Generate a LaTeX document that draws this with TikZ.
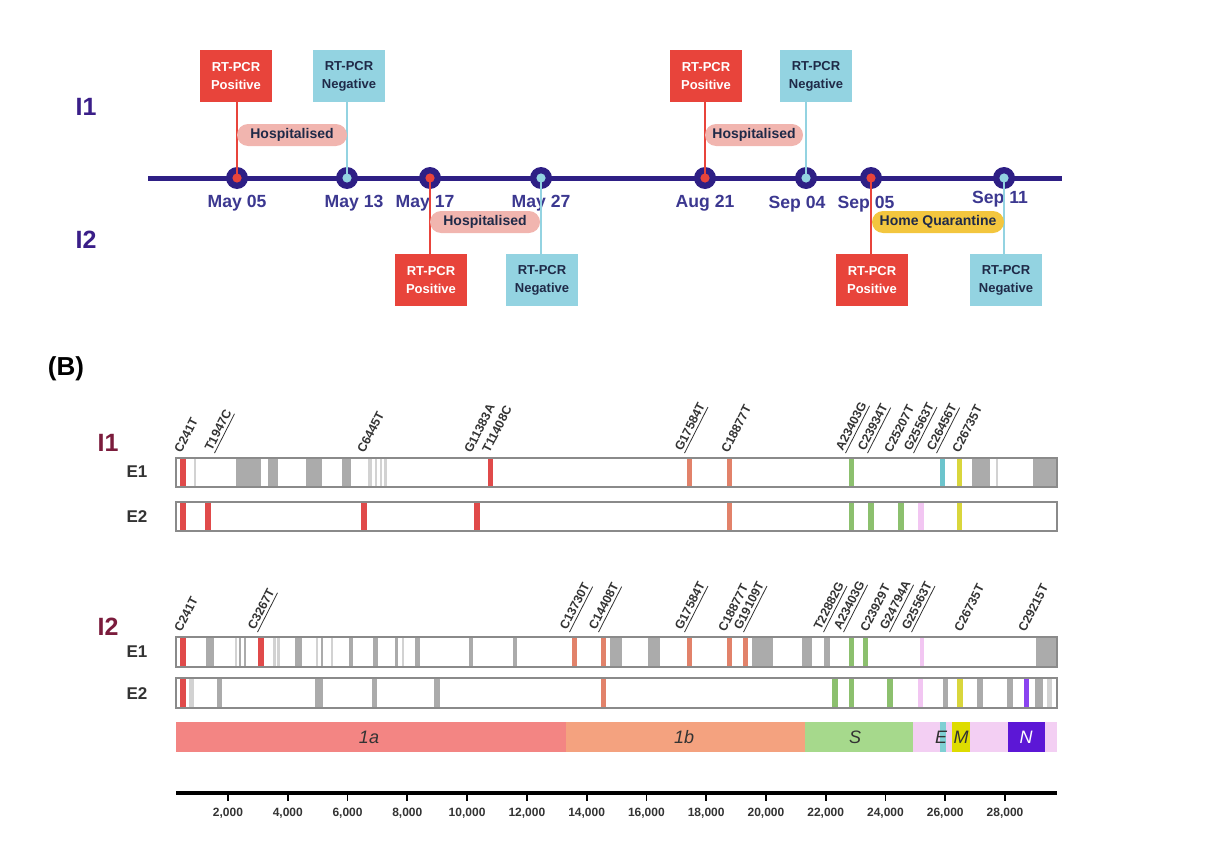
\documentclass[tikz,border=0pt]{standalone}
\usepackage{fontspec}
\setmainfont{Liberation Sans}
\definecolor{navy}{HTML}{2E1F85}
\definecolor{datec}{HTML}{3C3890}
\definecolor{ilab}{HTML}{3A1E88}
\definecolor{rpos}{HTML}{E8443B}
\definecolor{bneg}{HTML}{93D3E1}
\definecolor{negtext}{HTML}{1F2A48}
\definecolor{hosp}{HTML}{F1B5AF}
\definecolor{homeq}{HTML}{F3C63E}
\definecolor{maroonlab}{HTML}{7B1C3C}
\definecolor{mred}{HTML}{E04A4A}
\definecolor{morange}{HTML}{E2826A}
\definecolor{mgreen}{HTML}{8CC06E}
\definecolor{mteal}{HTML}{6CC4CC}
\definecolor{myellow}{HTML}{D9D63C}
\definecolor{mpink}{HTML}{F2C6F2}
\definecolor{mpurple}{HTML}{8A44F0}
\definecolor{mgray}{HTML}{ABABAB}
\definecolor{lgray}{HTML}{D2D2D2}
\definecolor{barline}{HTML}{8A8A8A}
\definecolor{g1a}{HTML}{F38583}
\definecolor{g1b}{HTML}{F4A27F}
\definecolor{gS}{HTML}{A6D98C}
\definecolor{gpink}{HTML}{F3CFF3}
\definecolor{gE}{HTML}{7FCFD3}
\definecolor{gM}{HTML}{DEDC00}
\definecolor{gN}{HTML}{5C17D6}
\definecolor{labtext}{HTML}{333333}
\tikzset{
  posbox/.style={fill=rpos, text=white, font=\bfseries\fontsize{6.5}{9}\selectfont, minimum width=36pt, minimum height=26pt, align=center, inner sep=0pt},
  negbox/.style={fill=bneg, text=negtext, font=\bfseries\fontsize{6.5}{9}\selectfont, minimum width=36pt, minimum height=26pt, align=center, inner sep=0pt},
  tldot/.style={circle, fill=navy, minimum size=11pt, inner sep=0pt},
  datelab/.style={text=datec, font=\bfseries\fontsize{8.8}{10}\selectfont},
  pill/.style={rounded corners=5.5pt, minimum height=11pt, inner sep=0pt, font=\bfseries\fontsize{7}{8}\selectfont, text=negtext},
  poslink/.style={rpos, line width=1.2pt},
  neglink/.style={bneg, line width=1.2pt},
  toplab/.style={text=ilab, font=\bfseries\fontsize{12.5}{14}\selectfont},
  panlab/.style={text=maroonlab, font=\bfseries\fontsize{12.5}{14}\selectfont},
  elab/.style={text=labtext, font=\bfseries\fontsize{8.5}{10}\selectfont},
  mut/.style={rotate=63, anchor=south west, inner sep=0.3pt, text=labtext, font=\bfseries\fontsize{6.2}{7}\selectfont},
  genelab/.style={font=\itshape\fontsize{9}{10}\selectfont, text=labtext},
  axlab/.style={font=\bfseries\fontsize{6}{7}\selectfont, text=labtext},
}
\newcommand{\mutmarks}[3]{\foreach \c/\a/\b in {#3} {\fill[\c] (\a,#1) rectangle (\b,#2);}}
\begin{document}
\begin{tikzpicture}[x=0.5pt, y=-0.5pt]
\useasboundingbox (0,0) rectangle (1214,856);
% ---------------- Panel A ----------------
\node[toplab] (ti1) at (86,107) {I1};
\node[toplab] (ti2) at (86,240) {I2};
\draw[navy, line width=2.5pt] (148,178) -- (1062,178);
\foreach \n/\x in {d1/237,d2/347,d3/430,d4/541,d5/705,d6/806,d7/871,d8/1004}
  \node[tldot] (\n) at (\x,178) {};
% boxes
\node[posbox] (b1) at (236,76) {RT-PCR\\Positive};
\node[negbox] (b2) at (349,76) {RT-PCR\\Negative};
\node[posbox] (b3) at (431,280) {RT-PCR\\Positive};
\node[negbox] (b4) at (542,280) {RT-PCR\\Negative};
\node[posbox] (b5) at (706,76) {RT-PCR\\Positive};
\node[negbox] (b6) at (816,76) {RT-PCR\\Negative};
\node[posbox] (b7) at (872,280) {RT-PCR\\Positive};
\node[negbox] (b8) at (1006,280) {RT-PCR\\Negative};
% dates
\node[datelab] (l1) at (237,203) {May 05};
\node[datelab] (l2) at (354,203) {May 13};
\node[datelab] (l3) at (425,203) {May 17};
\node[datelab] (l4) at (541,203) {May 27};
\node[datelab] (l5) at (705,203) {Aug 21};
\node[datelab] (l6) at (797,204) {Sep 04};
\node[datelab] (l7) at (866,204) {Sep 05};
\node[datelab] (l8) at (1000,199) {Sep 11};
% links
\draw[poslink] (b1.south -| d1) -- (d1.center);
\draw[neglink] (b2.south -| d2) -- (d2.center);
\draw[poslink] (b3.north -| d3) -- (d3.center);
\draw[neglink] (b4.north -| d4) -- (d4.center);
\draw[poslink] (b5.south -| d5) -- (d5.center);
\draw[neglink] (b6.south -| d6) -- (d6.center);
\draw[poslink] (b7.north -| d7) -- (d7.center);
\draw[neglink] (b8.north -| d8) -- (d8.center);
\foreach \n in {d1,d3,d5,d7} \fill[rpos] (\n) circle (2.3pt);
\foreach \n in {d2,d4,d6,d8} \fill[bneg] (\n) circle (2.3pt);
% pills
\node[pill, fill=hosp, minimum width=55pt] (h1) at (292,135) {Hospitalised};
\node[pill, fill=hosp, minimum width=55pt] (h2) at (485,222) {Hospitalised};
\node[pill, fill=hosp, minimum width=49pt] (h3) at (754,135) {Hospitalised};
\node[pill, fill=homeq, minimum width=66pt] (h4) at (938,222) {Home Quarantine};
% ---------------- Panel B ----------------
\node[font=\bfseries\fontsize{13}{15}\selectfont] (plB) at (66,369) {(B)};
\node[panlab] (pi1) at (108,443) {I1};
\node[panlab] (pi2) at (108,627) {I2};
\node[elab] (e11) at (137,472) {E1};
\node[elab] (e12) at (137,517) {E2};
\node[elab] (e21) at (137,652) {E1};
\node[elab] (e22) at (137,694) {E2};
% I1 E1
\mutmarks{458}{487}{mred/180/186, lgray/194/196, mgray/236/261, mgray/268/278, mgray/306/322, mgray/342/351, lgray/368/372, lgray/375/377, lgray/380/382, lgray/384/387, mred/488/493, morange/687/692, morange/727/732, mgreen/849/854, mteal/940/945, myellow/957/962, mgray/972/990, lgray/996/998, mgray/1033/1057}
% I1 E2
\mutmarks{502}{531}{mred/180/186, mred/205/211, mred/361/367, mred/474/480, morange/727/732, mgreen/849/854, mgreen/868/874, mgreen/898/904, mpink/918/924, myellow/957/962}
% I2 E1
\mutmarks{637}{667}{mred/180/186, mgray/206/214, lgray/235/237, mgray/239/241, mgray/244/246, mred/258/264, lgray/273/276, lgray/277/280, mgray/295/302, lgray/316/318, mgray/321/323, lgray/331/333, mgray/349/353, mgray/373/378, mgray/395/398, lgray/402/404, mgray/415/420, mgray/469/473, mgray/513/517, morange/572/577, morange/601/606, mgray/610/622, mgray/648/660, morange/687/692, morange/727/732, morange/743/748, mgray/752/773, mgray/802/812, mgray/824/830, mgreen/849/854, mgreen/863/868, mpink/920/924, mgray/1036/1057}
% I2 E2
\mutmarks{678}{708}{mred/180/186, lgray/189/194, mgray/217/222, mgray/315/323, mgray/372/377, mgray/434/440, morange/601/606, mgreen/832/838, mgreen/849/854, mgreen/887/893, mpink/918/923, mgray/943/948, myellow/957/963, mgray/977/983, mgray/1007/1013, mpurple/1024/1029, mgray/1035/1043, lgray/1047/1052}
\foreach \t/\b in {458/487, 502/531, 637/667, 678/708}
  \draw[barline, line width=1pt] (176,\t) rectangle (1057,\b);
% I1 labels
\foreach \x/\s in {182/C241T, 365/C6445T, 472/G11383A, 490/T11408C, 729/C18877T, 892/C25207T, 960/C26735T}
  \node[mut] at (\x,455) {\s};
\foreach \x/\s in {216/T1947C, 686/G17584T, 847/A23403G, 869/C23934T, 915/G25563T, 938/C26456T}
  \node[mut] at (\x,455) {\underline{\s}};
% I2 labels
\foreach \x/\s in {182/C241T, 726/C18877T, 868/C23929T, 962/C26735T, 1026/C29215T}
  \node[mut] at (\x,634) {\s};
\foreach \x/\s in {259/C3267T, 571/C13730T, 600/C14408T, 686/G17584T, 745/G19109T, 825/T22882G, 845/A23403G, 891/G24794A, 913/G25563T}
  \node[mut] at (\x,634) {\underline{\s}};
% gene map
\fill[g1a] (176,722) rectangle (566,752);
\fill[g1b] (566,722) rectangle (805,752);
\fill[gS] (805,722) rectangle (913,752);
\fill[gpink] (913,722) rectangle (1057,752);
\fill[gE] (940,722) rectangle (946,752);
\fill[gM] (952,722) rectangle (970,752);
\fill[gN] (1008,722) rectangle (1045,752);
\node[genelab] (n1a) at (369,737) {1a};
\node[genelab] (n1b) at (684,737) {1b};
\node[genelab] (nS) at (855,737) {S};
\node[genelab] (nE) at (941,737) {E};
\node[genelab] (nM) at (961,737) {M};
\node[genelab, text=white] (nN) at (1026,737) {N};
% axis
\draw[line width=1.6pt] (176,793) -- (1057,793);
\foreach \k in {1,...,14} {
  \pgfmathsetmacro{\xx}{228+59.77*(\k-1)}
  \pgfmathtruncatemacro{\vv}{2*\k}
  \draw[line width=0.9pt] (\xx,793) -- (\xx,801);
  \node[axlab] at (\xx,813) {\vv,000};
}
\end{tikzpicture}
\end{document}
